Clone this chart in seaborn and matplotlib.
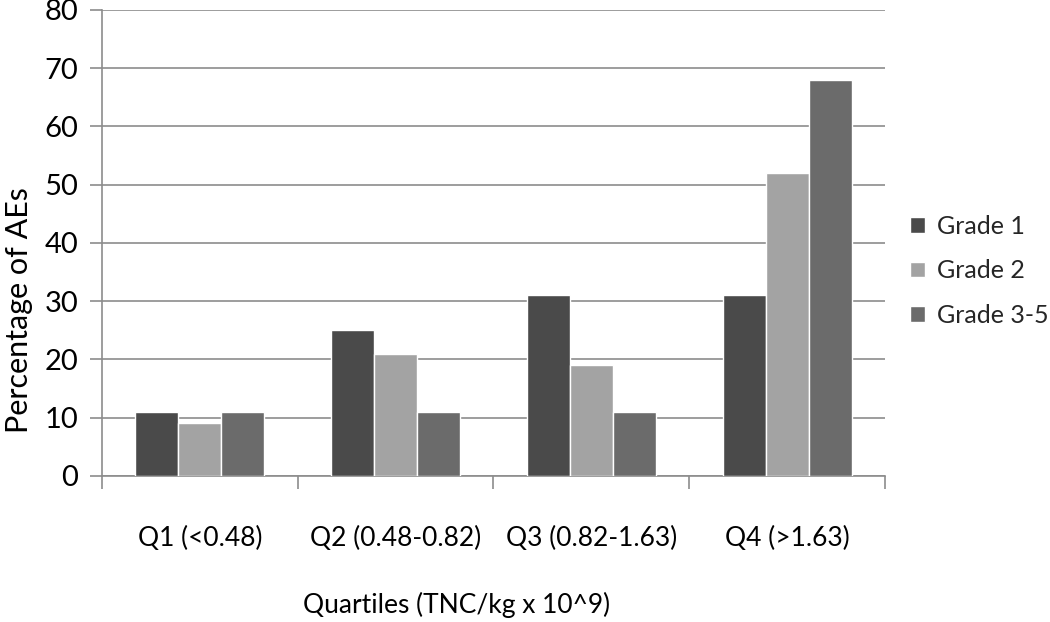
import pandas as pd
import seaborn as sns
import matplotlib.pyplot as plt
from matplotlib.ticker import FixedLocator

# ========= Data =========
quartiles = ["Q1 (<0.48)", "Q2 (0.48-0.82)", "Q3 (0.82-1.63)", "Q4 (>1.63)"]
grades = ["Grade 1", "Grade 2", "Grade 3-5"]
grade1 = [11, 25, 31, 31]
grade2 = [9, 21, 19, 52]
grade35 = [11, 11, 11, 68]
colors = ["#4a4a4a", "#a3a3a3", "#6b6b6b"]

rows = []
for g, vals in zip(grades, [grade1, grade2, grade35]):
    for q, v in zip(quartiles, vals):
        rows.append({"Quartile": q, "Grade": g, "Pct": v})
df = pd.DataFrame(rows)

# ========= Plot =========
sns.set_theme(style="white")
plt.rcParams["font.family"] = ["Lato", "DejaVu Sans"]

fig = plt.figure(figsize=(10.5, 6.22), dpi=100)
ax = fig.add_axes([0.097, 0.235, 0.746, 0.749])

sns.barplot(data=df, x="Quartile", y="Pct", hue="Grade", palette=colors,
            width=0.66, saturation=1, ax=ax, zorder=3)

ax.set_ylim(0, 80)
ax.set_xlim(-0.5, 3.5)
ax.set_yticks(range(0, 81, 10))
ax.yaxis.grid(True, color="#8c8c8c", linewidth=1.2, zorder=0)
ax.set_axisbelow(True)

for s in ["top", "right"]:
    ax.spines[s].set_visible(False)
for s in ["left", "bottom"]:
    ax.spines[s].set_color("#8c8c8c")
    ax.spines[s].set_linewidth(1.2)

ax.tick_params(axis="y", direction="out", length=9, width=1.2, color="#8c8c8c",
               labelsize=21, pad=8, left=True, labelcolor="black")
ax.tick_params(axis="x", which="major", length=0, labelsize=19, pad=36,
               labelcolor="black")
ax.xaxis.set_minor_locator(FixedLocator([-0.5, 0.5, 1.5, 2.5, 3.5]))
ax.tick_params(axis="x", which="minor", direction="out", length=9, width=1.2,
               color="#8c8c8c", bottom=True)

ax.set_ylabel("Percentage of AEs", fontsize=22, color="black")
ax.yaxis.label.set_va("center")
ax.yaxis.set_label_coords(-0.106, 0.356)
ax.set_xlabel("Quartiles (TNC/kg x 10^9)", fontsize=19, color="black")
ax.xaxis.label.set_va("center")
ax.xaxis.set_label_coords(0.453, -0.277)

leg = ax.legend(loc="center left", bbox_to_anchor=(1.003, 0.44), frameon=False,
                fontsize=18, handlelength=0.6, handleheight=0.6,
                labelspacing=0.85, handletextpad=0.5)

fig.savefig("out.png", dpi=100)
